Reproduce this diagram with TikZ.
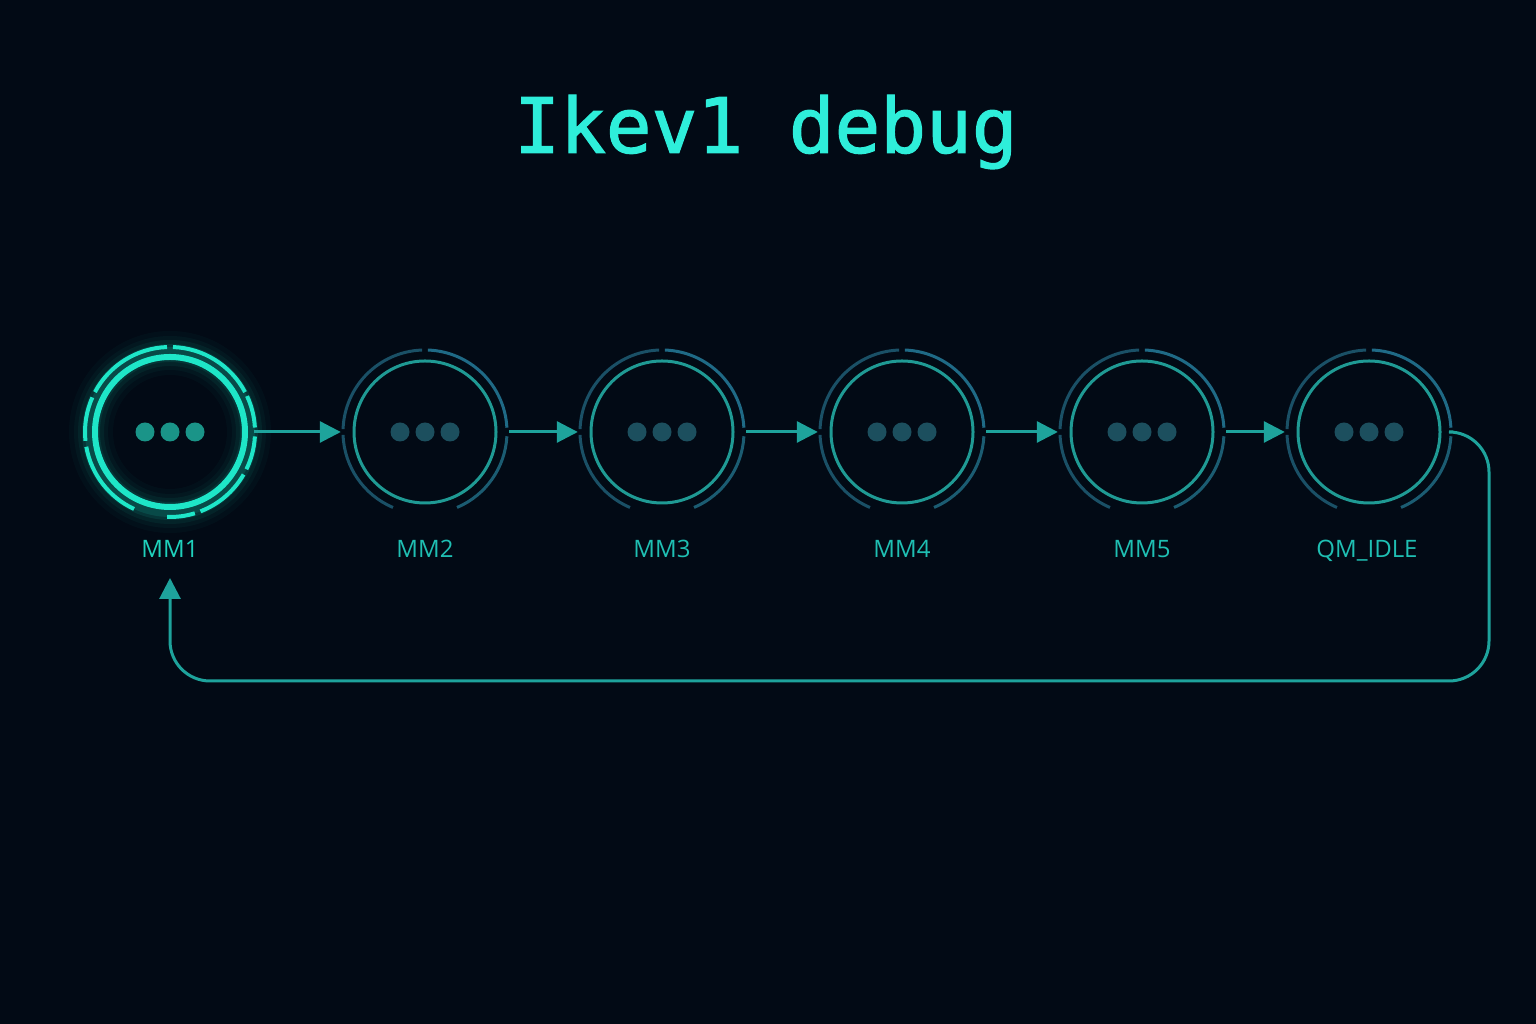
\documentclass[tikz,border=0pt]{standalone}
\usepackage{fontspec}
\newfontfamily\titlefont[FakeBold=1.6]{DejaVu Sans Mono}
\newfontfamily\labelfont{Open Sans}
\usetikzlibrary{arrows.meta}
\definecolor{bg}{HTML}{020A15}
\definecolor{titlec}{HTML}{2EEEDA}
\definecolor{ringc}{HTML}{1F9A94}
\definecolor{arcA}{HTML}{1F6A86}
\definecolor{arcB}{HTML}{1A5066}
\definecolor{arcC}{HTML}{1B5C72}
\definecolor{dotc}{HTML}{1C4F5E}
\definecolor{lblc}{HTML}{1FBFB3}
\definecolor{arrc}{HTML}{1EA39C}
\definecolor{hotc}{HTML}{1EE6C8}
\definecolor{hotdot}{HTML}{1A9488}
\newcommand\dimring[1]{%
  \draw[ring] (#1.center) circle[radius=71];
  \foreach \a/\b/\c in {3/88/arcA, 92/178/arcB, 182/247/arcB, 293/357/arcC}
    \draw[draw=\c, line width=3pt] ([shift={(\a:82)}]#1.center) arc[start angle=\a, end angle=\b, radius=82];
  \foreach \dx in {-25,0,25}
    \fill[dotc] ([xshift=\dx pt]#1.center) circle[radius=9.5];
}
\begin{document}
\begin{tikzpicture}[x=1pt,y=1pt,
  state/.style={circle, minimum size=168pt, inner sep=0pt},
  ring/.style={draw=ringc, line width=3pt},
  lbl/.style={font=\labelfont\fontsize{24}{28}\selectfont, text=lblc, anchor=base},
  arr/.style={draw=arrc, line width=3pt, -{Triangle[length=21pt,width=21pt]}}]
\useasboundingbox (0,0) rectangle (1536,1024);
\fill[bg] (0,0) rectangle (1536,1024);

% title
\node[font=\titlefont\fontsize{76}{80}\selectfont, text=titlec] (title) at (766,892) {Ikev1 debug};

% states
\node[state] (mm1) at (170,592) {};
\node[state] (mm2) at (425,592) {};
\node[state] (mm3) at (662,592) {};
\node[state] (mm4) at (902,592) {};
\node[state] (mm5) at (1142,592) {};
\node[state] (qm) at (1369,592) {};

% MM1 glowing ring
\foreach \w/\o in {44/0.03,34/0.04,26/0.06,18/0.09,12/0.12}
  \draw[hotc, line width=\w pt, opacity=\o] (mm1.center) circle[radius=79];
\draw[hotc, line width=6pt] (mm1.center) circle[radius=75];
\foreach \a/\b in {3/25, 28/88, 92/152, 156/186, 190/245, 268/287, 291/330, 334/357}
  \draw[hotc, line width=4pt] ([shift={(\a:85)}]mm1.center) arc[start angle=\a, end angle=\b, radius=85];
\foreach \dx in {-25,0,25}
  \fill[hotdot] ([xshift=\dx pt]mm1.center) circle[radius=9.5];

\dimring{mm2}
\dimring{mm3}
\dimring{mm4}
\dimring{mm5}
\dimring{qm}

% labels
\node[lbl, text=lblc!55!hotc] (lab1) at (170,466) {MM1};
\node[lbl] (lab2) at (425,466) {MM2};
\node[lbl] (lab3) at (662,466) {MM3};
\node[lbl] (lab4) at (902,466) {MM4};
\node[lbl] (lab5) at (1142,466) {MM5};
\node[lbl] (lab6) at (1367,466) {QM\_IDLE};

% connectors
\draw[arr] (mm1) -- (mm2);
\draw[arr] (mm2) -- (mm3);
\draw[arr] (mm3) -- (mm4);
\draw[arr] (mm4) -- (mm5);
\draw[arr] (mm5) -- (qm);
\coordinate (ret) at (170,446);
\coordinate (c1) at (1489,592);
\coordinate (c2) at (1489,343);
\coordinate (c3) at (170,343);
\draw[arr, rounded corners=40pt] (qm.east) -- (c1) -- (c2) -- (c3) -- (ret);
\end{tikzpicture}
\end{document}
